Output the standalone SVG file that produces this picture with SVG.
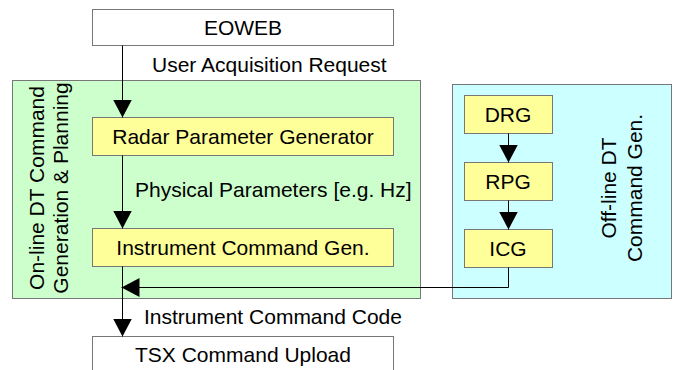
<svg xmlns="http://www.w3.org/2000/svg" width="673" height="370" viewBox="0 0 673 370">
<defs>
<marker id="ah" markerWidth="18" markerHeight="19" refX="18" refY="9.5" orient="auto" markerUnits="userSpaceOnUse">
<path d="M0,0 L18,9.5 L0,19 Z" fill="#000"/>
</marker>
<style>
text{font-family:"Liberation Sans",Arial,sans-serif;font-size:21px;fill:#000}
.c{text-anchor:middle}
.box{stroke:#777;stroke-width:1}
.w{fill:#fff}
.y{fill:#ffff99}
.line{stroke:#000;stroke-width:1;fill:none}
</style>
</defs>
<rect width="673" height="370" fill="#fff"/>
<g id="online-group">
<rect class="box" x="12.5" y="80.5" width="408" height="218" fill="#ccffcc"/>
<text class="c" transform="translate(44,188) rotate(-90)">On-line DT Command</text>
<text class="c" transform="translate(68,188) rotate(-90)">Generation &amp; Planning</text>
</g>
<g id="offline-group">
<rect class="box" x="452.5" y="84.5" width="219" height="214" fill="#ccffff"/>
<text class="c" transform="translate(616,188) rotate(-90)">Off-line DT</text>
<text class="c" transform="translate(642,188) rotate(-90)">Command Gen.</text>
</g>
<g id="eoweb">
<rect class="box w" x="92.5" y="9.5" width="301" height="36"/>
<text class="c" x="243" y="35">EOWEB</text>
</g>
<g id="rpg-online">
<rect class="box y" x="92.5" y="117.5" width="301" height="38"/>
<text class="c" x="243" y="144">Radar Parameter Generator</text>
</g>
<g id="icg-online">
<rect class="box y" x="92.5" y="228.5" width="301" height="38"/>
<text class="c" x="243" y="255">Instrument Command Gen.</text>
</g>
<g id="tsx">
<rect class="box w" x="92.5" y="336.5" width="301" height="40"/>
<text class="c" x="243" y="362">TSX Command Upload</text>
</g>
<g id="drg">
<rect class="box y" x="464.5" y="95.5" width="88" height="38"/>
<text class="c" x="508" y="122">DRG</text>
</g>
<g id="rpg">
<rect class="box y" x="464.5" y="162.5" width="88" height="38"/>
<text class="c" x="508" y="189">RPG</text>
</g>
<g id="icg">
<rect class="box y" x="464.5" y="229.5" width="88" height="38"/>
<text class="c" x="508" y="256">ICG</text>
</g>
<g id="connectors">
<line class="line" x1="122.5" y1="45.5" x2="122.5" y2="117.5" marker-end="url(#ah)"/>
<line class="line" x1="122.5" y1="155.5" x2="122.5" y2="228.5" marker-end="url(#ah)"/>
<line class="line" x1="122.5" y1="266.5" x2="122.5" y2="336.5" marker-end="url(#ah)"/>
<polyline class="line" points="508.5,267.5 508.5,287.5 121.5,287.5" marker-end="url(#ah)"/>
<line class="line" x1="508.5" y1="133.5" x2="508.5" y2="162.5" marker-end="url(#ah)"/>
<line class="line" x1="508.5" y1="200.5" x2="508.5" y2="229.5" marker-end="url(#ah)"/>
<text x="152" y="72">User Acquisition Request</text>
<text x="135" y="197">Physical Parameters [e.g. Hz]</text>
<text x="144" y="324">Instrument Command Code</text>
</g>
</svg>
